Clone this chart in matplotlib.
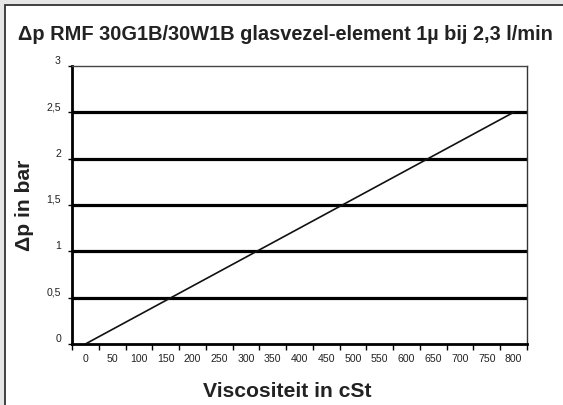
import matplotlib
matplotlib.use("Agg")
import matplotlib.pyplot as plt
import matplotlib.patches as patches
from matplotlib import font_manager
import numpy as np

# ---- data ----
x_categories = ["0", "50", "100", "150", "200", "250", "300", "350", "400",
                "450", "500", "550", "600", "650", "700", "750", "800"]
line_x = ["0", "800"]          # category labels of line end points
line_y = [0.0, 2.5]            # pressure drop in bar
grid_levels = [0.5, 1.0, 1.5, 2.0, 2.5]
y_ticks = [0, 0.5, 1, 1.5, 2, 2.5, 3]
y_tick_labels = ["0", "0,5", "1", "1,5", "2", "2,5", "3"]
title = "\u0394p RMF 30G1B/30W1B glasvezel-element 1\u00b5 bij 2,3 l/min"
xlabel = "Viscositeit in cSt"
ylabel = "\u0394p in bar"

W, H = 563, 405
fig = plt.figure(figsize=(W / 100, H / 100), dpi=100)
fig.patch.set_facecolor("#e6e6e6")

# white panel
panel = patches.Rectangle((5 / W, -0.2), 1.2, (H - 5) / H + 0.2,
                          transform=fig.transFigure, facecolor="white",
                          edgecolor="#333333", linewidth=1.3, zorder=-5)
fig.patches.append(panel)

names = {f.name for f in font_manager.fontManager.ttflist}
narrow = "Liberation Sans Narrow" if "Liberation Sans Narrow" in names else "Liberation Sans"
tick_size = 8.8 if narrow == "Liberation Sans Narrow" else 7.6

ax = fig.add_axes([72 / W, (H - 344) / H, (527 - 72) / W, (344 - 66) / H])
ax.set_zorder(2)
ax.set_facecolor("white")

pos = np.arange(len(x_categories))
lx = [x_categories.index(v) for v in line_x]
ax.plot(lx, line_y, color="#111111", lw=1.2, zorder=3)
ax.hlines(grid_levels, -0.5, len(x_categories) - 0.5, color="black", lw=2.3, zorder=2)

ax.set_xlim(-0.5, len(x_categories) - 0.5)
ax.set_ylim(0, 3)

# category axis: ticks at boundaries, labels at centers
ax.set_xticks(np.arange(-0.5, len(x_categories), 1.0))
ax.set_xticklabels([])
ax.set_xticks(pos, x_categories, minor=True)
ax.tick_params(axis="x", which="major", length=4, width=1, color="black", direction="out")
ax.tick_params(axis="x", which="minor", length=0, pad=7, labelsize=tick_size, labelcolor="#222222")
for t in ax.get_xticklabels(minor=True):
    t.set_fontfamily(narrow)

ax.set_yticks(y_ticks, y_tick_labels)
ax.tick_params(axis="y", length=3, width=1, pad=5, labelsize=tick_size, labelcolor="#222222")
for t in ax.get_yticklabels():
    t.set_fontfamily(narrow)
    t.set_va("bottom")

ax.spines["left"].set_linewidth(2.0)
ax.spines["bottom"].set_linewidth(2.0)
ax.spines["top"].set_linewidth(1.0)
ax.spines["top"].set_color("#444444")
ax.spines["right"].set_linewidth(1.0)
ax.spines["right"].set_color("#333333")

fig.text(18 / W, 1 - 35 / H, title, ha="left", va="center", fontsize=14.4,
         fontweight="bold", family="Liberation Sans", color="#222222")
fig.text(287 / W, 1 - 397 / H, xlabel, ha="center", va="baseline", fontsize=15.2,
         fontweight="bold", family="Liberation Sans", color="#222222")
fig.text(25 / W, 1 - 205 / H, ylabel, ha="center", va="center", rotation=90,
         fontsize=15.2, fontweight="bold", family="Liberation Sans", color="#222222")

fig.savefig("out.png", dpi=100, facecolor=fig.get_facecolor())
